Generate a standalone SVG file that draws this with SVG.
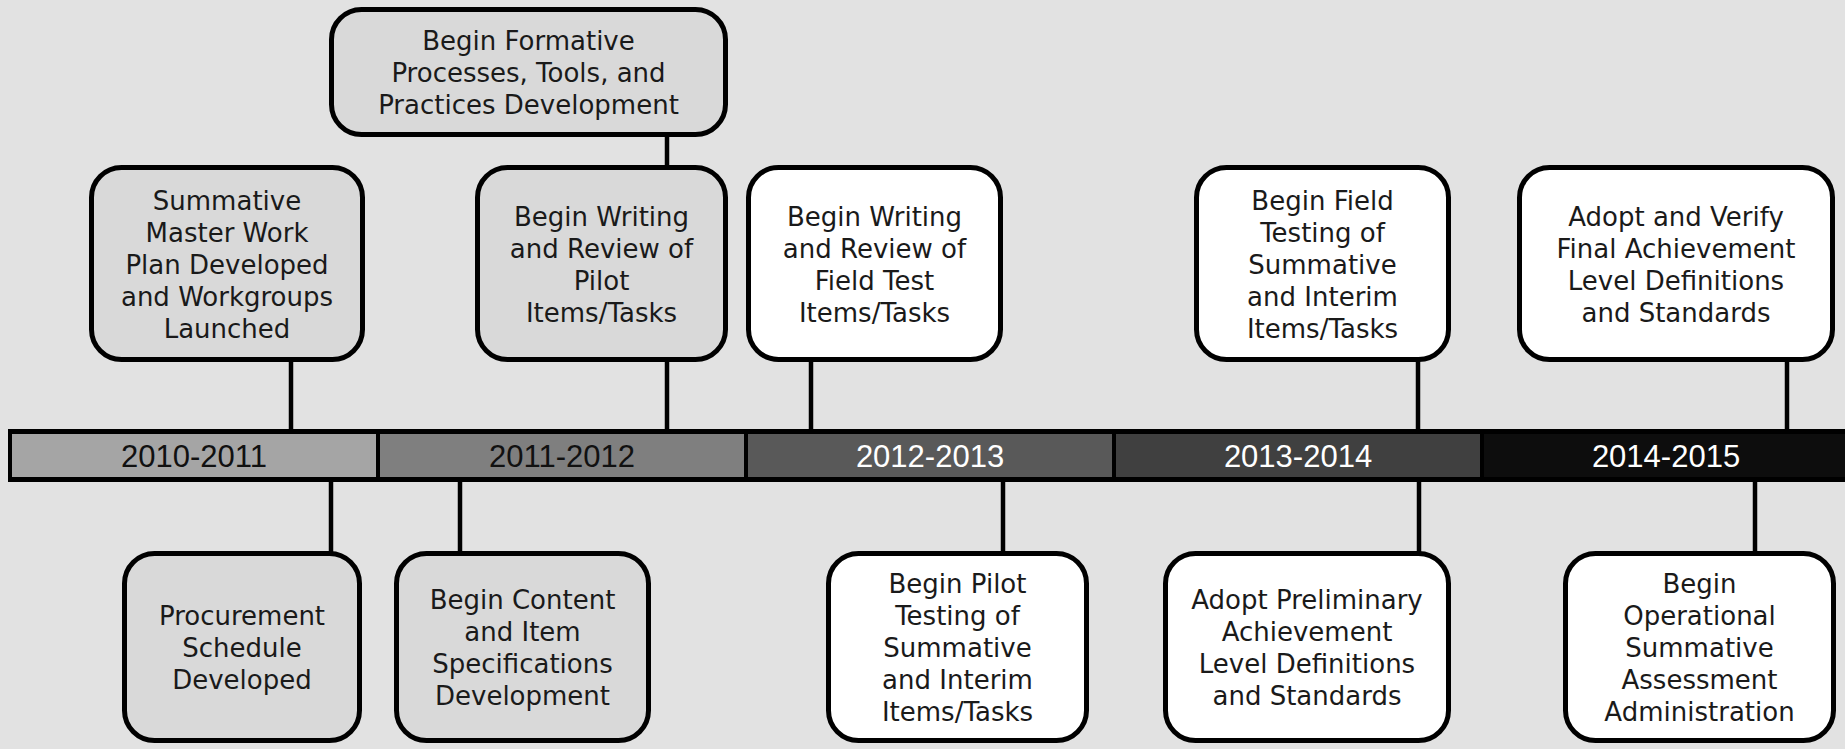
<svg xmlns="http://www.w3.org/2000/svg" width="1845" height="749" viewBox="0 0 1845 749">
<style>
.box{stroke:#000;stroke-width:5}
.g{fill:#d9d9d9}
.w{fill:#ffffff}
.t{font-family:"DejaVu Sans",sans-serif;font-size:26px;fill:#1a1a1a;text-anchor:middle}
.yr{font-family:"Liberation Sans",Arial,sans-serif;font-size:31px;text-anchor:middle}
.c line{stroke:#000;stroke-width:4.5}
</style>
<rect x="0" y="0" width="1845" height="749" fill="#e2e2e2"/>
<g class="c" id="connectors">
<line x1="291" y1="360" x2="291" y2="431"/>
<line x1="667" y1="135" x2="667" y2="167"/>
<line x1="667" y1="360" x2="667" y2="431"/>
<line x1="811" y1="360" x2="811" y2="431"/>
<line x1="1418" y1="360" x2="1418" y2="431"/>
<line x1="1787" y1="360" x2="1787" y2="431"/>
<line x1="331" y1="480" x2="331" y2="553"/>
<line x1="460" y1="480" x2="460" y2="553"/>
<line x1="1003" y1="480" x2="1003" y2="553"/>
<line x1="1419" y1="480" x2="1419" y2="553"/>
<line x1="1755" y1="480" x2="1755" y2="553"/>
</g>
<g id="timeline">
<rect x="10.5" y="431.5" width="1850" height="48" fill="#000" stroke="#000" stroke-width="5"/>
<rect x="12" y="434" width="364" height="43" fill="#a5a5a5"/>
<rect x="380" y="434" width="364" height="43" fill="#7f7f7f"/>
<rect x="748" y="434" width="364" height="43" fill="#595959"/>
<rect x="1116" y="434" width="364" height="43" fill="#404040"/>
<rect x="1484" y="434" width="370" height="43" fill="#0d0d0d"/>
<text class="yr" x="194" y="467" fill="#111">2010-2011</text>
<text class="yr" x="562" y="467" fill="#111">2011-2012</text>
<text class="yr" x="930" y="467" fill="#fff">2012-2013</text>
<text class="yr" x="1298" y="467" fill="#fff">2013-2014</text>
<text class="yr" x="1666" y="467" fill="#fff">2014-2015</text>
</g>
<g id="n1">
<rect class="box g" x="91.5" y="167.5" width="271" height="192" rx="30"/>
<text class="t" x="227"><tspan x="227" y="209.5">Summative</tspan><tspan x="227" y="241.5">Master Work</tspan><tspan x="227" y="273.5">Plan Developed</tspan><tspan x="227" y="305.5">and Workgroups</tspan><tspan x="227" y="337.5">Launched</tspan></text>
</g>
<g id="n2">
<rect class="box g" x="331.5" y="9.5" width="394" height="125" rx="30"/>
<text class="t"><tspan x="528.5" y="50">Begin Formative</tspan><tspan x="528.5" y="82">Processes, Tools, and</tspan><tspan x="528.5" y="114">Practices Development</tspan></text>
</g>
<g id="n3">
<rect class="box g" x="477.5" y="167.5" width="248" height="192" rx="30"/>
<text class="t"><tspan x="601.5" y="225.5">Begin Writing</tspan><tspan x="601.5" y="257.5">and Review of</tspan><tspan x="601.5" y="289.5">Pilot</tspan><tspan x="601.5" y="321.5">Items/Tasks</tspan></text>
</g>
<g id="n4">
<rect class="box w" x="748.5" y="167.5" width="252" height="192" rx="30"/>
<text class="t"><tspan x="874.5" y="225.5">Begin Writing</tspan><tspan x="874.5" y="257.5">and Review of</tspan><tspan x="874.5" y="289.5">Field Test</tspan><tspan x="874.5" y="321.5">Items/Tasks</tspan></text>
</g>
<g id="n5">
<rect class="box w" x="1196.5" y="167.5" width="252" height="192" rx="30"/>
<text class="t"><tspan x="1322.5" y="209.5">Begin Field</tspan><tspan x="1322.5" y="241.5">Testing of</tspan><tspan x="1322.5" y="273.5">Summative</tspan><tspan x="1322.5" y="305.5">and Interim</tspan><tspan x="1322.5" y="337.5">Items/Tasks</tspan></text>
</g>
<g id="n6">
<rect class="box w" x="1519.5" y="167.5" width="313" height="192" rx="30"/>
<text class="t"><tspan x="1676" y="225.5">Adopt and Verify</tspan><tspan x="1676" y="257.5">Final Achievement</tspan><tspan x="1676" y="289.5">Level Definitions</tspan><tspan x="1676" y="321.5">and Standards</tspan></text>
</g>
<g id="n7">
<rect class="box g" x="124.5" y="553.5" width="235" height="187" rx="30"/>
<text class="t"><tspan x="242" y="625">Procurement</tspan><tspan x="242" y="657">Schedule</tspan><tspan x="242" y="689">Developed</tspan></text>
</g>
<g id="n8">
<rect class="box g" x="396.5" y="553.5" width="252" height="187" rx="30"/>
<text class="t"><tspan x="522.5" y="609">Begin Content</tspan><tspan x="522.5" y="641">and Item</tspan><tspan x="522.5" y="673">Specifications</tspan><tspan x="522.5" y="705">Development</tspan></text>
</g>
<g id="n9">
<rect class="box w" x="828.5" y="553.5" width="258" height="187" rx="30"/>
<text class="t"><tspan x="957.5" y="593">Begin Pilot</tspan><tspan x="957.5" y="625">Testing of</tspan><tspan x="957.5" y="657">Summative</tspan><tspan x="957.5" y="689">and Interim</tspan><tspan x="957.5" y="721">Items/Tasks</tspan></text>
</g>
<g id="n10">
<rect class="box w" x="1165.5" y="553.5" width="283" height="187" rx="30"/>
<text class="t"><tspan x="1307" y="609">Adopt Preliminary</tspan><tspan x="1307" y="641">Achievement</tspan><tspan x="1307" y="673">Level Definitions</tspan><tspan x="1307" y="705">and Standards</tspan></text>
</g>
<g id="n11">
<rect class="box w" x="1565.5" y="553.5" width="268" height="187" rx="30"/>
<text class="t"><tspan x="1699.5" y="593">Begin</tspan><tspan x="1699.5" y="625">Operational</tspan><tspan x="1699.5" y="657">Summative</tspan><tspan x="1699.5" y="689">Assessment</tspan><tspan x="1699.5" y="721">Administration</tspan></text>
</g>
</svg>
